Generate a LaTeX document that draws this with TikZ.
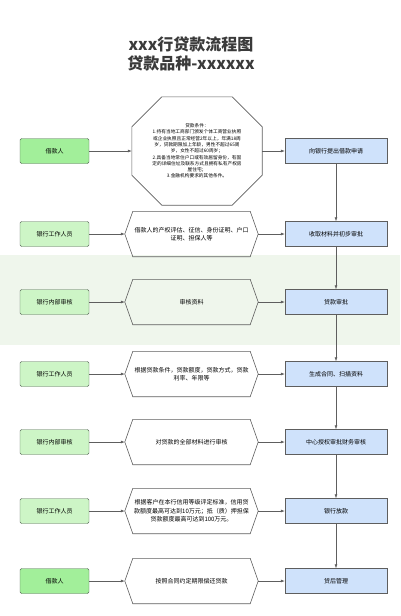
\documentclass[tikz,border=0pt]{standalone}
\usepackage{fontspec}
\setmainfont{Noto Sans CJK SC}
\usetikzlibrary{arrows.meta}

\definecolor{linegray}{HTML}{5E5E5E}
\definecolor{boxline}{HTML}{556655}
\definecolor{brightgreen}{HTML}{A2EF9A}
\definecolor{leftgreen}{HTML}{CDF5C6}
\definecolor{rightblue}{HTML}{CFE2FB}
\definecolor{bandgreen}{HTML}{EFF6EC}
\definecolor{titlegray}{HTML}{3A3A3A}

\begin{document}
\begin{tikzpicture}[x=1pt,y=-1pt,
  who/.style={draw=boxline, fill=leftgreen, rounded corners=1.5pt, minimum width=69pt, minimum height=25pt, inner sep=1pt, font=\fontsize{6}{7}\selectfont},
  whoB/.style={who, fill=brightgreen},
  todo/.style={draw=linegray, fill=rightblue, minimum width=102pt, minimum height=25pt, inner sep=1pt, font=\fontsize{6}{7}\selectfont},
  hexbox/.style={minimum width=133pt, minimum height=45pt, inner sep=0pt, align=center, font=\fontsize{6}{8.5}\selectfont},
  flow/.style={draw=linegray, line width=0.6pt, -{Latex[length=4pt,width=3pt]}}]

\useasboundingbox (0,0) rectangle (400,616);
\fill[bandgreen] (0,255) rectangle (400,345); % faint band

% Title
\node[text=titlegray, font=\bfseries\fontsize{16}{18}\selectfont] (title) at (191,44) {xxx行贷款流程图};
\node[text=titlegray, font=\bfseries\fontsize{16}{18}\selectfont] (kind) at (191,63) {贷款品种-xxxxxx};

% Left column
\node[whoB] (a1) at (54.5,151) {借款人};
\node[who] (a2) at (54.5,234) {银行工作人员};
\node[who] (a3) at (54.5,302) {银行内部审核};
\node[who] (a4) at (54.5,374) {银行工作人员};
\node[who] (a5) at (54.5,442) {银行内部审核};
\node[who] (a6) at (54.5,511) {银行工作人员};
\node[whoB] (a7) at (54.5,581) {借款人};

% Middle column
\node[minimum width=130pt, minimum height=108pt, inner sep=0pt, align=center, font=\fontsize{4.7}{6.3}\selectfont] (cond) at (197,151)
  {贷款条件：\\
   1.持有当地工商部门颁发个体工商营业执照\\
   或企业执照且正常经营2年以上，年满18周\\
   岁，贷款期限加上年龄，男性不超过65周\\
   岁，女性不超过60周岁；\\
   2.具备当地常住户口或有效居留身份，有固\\
   定的详细住址及联系方式且拥有私有产权房\\
   屋住宅；\\
   3.金融机构要求的其他条件。};
\node[hexbox] (h2) at (191.5,234) {借款人的产权评估、征信、身份证明、户口\\证明、担保人等};
\node[hexbox] (h3) at (191.5,302) {审核资料};
\node[hexbox] (h4) at (191.5,374) {根据贷款条件，贷款额度，贷款方式，贷款\\利率、年限等};
\node[hexbox] (h5) at (191.5,442) {对贷款的全部材料进行审核};
\node[hexbox] (h6) at (191.5,511) {根据客户在本行信用等级评定标准，信用贷\\款额度最高可达到10万元；抵（质）押担保\\贷款额度最高可达到100万元。};
\node[hexbox] (h7) at (191.5,581) {按照合同约定期限偿还贷款};

% Right column
\node[todo] (b1) at (336,151) {向银行提出借款申请};
\node[todo] (b2) at (336,234) {收取材料并初步审批};
\node[todo] (b3) at (336,302) {贷款审批};
\node[todo] (b4) at (336,374) {生成合同、扫描资料};
\node[todo] (b5) at (336,442) {中心授权审批财务审核};
\node[todo] (b6) at (336,511) {银行放款};
\node[todo] (b7) at (336,581) {贷后管理};

% Outlines
\draw[linegray, line width=0.6pt] ([yshift=-30pt]cond.north west) -- ([xshift=30pt]cond.north west) -- ([xshift=-30pt]cond.north east) -- ([yshift=-30pt]cond.north east) -- ([yshift=30pt]cond.south east) -- ([xshift=-30pt]cond.south east) -- ([xshift=30pt]cond.south west) -- ([yshift=30pt]cond.south west) -- cycle;
\foreach \h in {h2,h3,h4,h5,h6,h7}
  \draw[linegray, line width=0.6pt] (\h.west) -- ([xshift=8pt]\h.north west) -- ([xshift=-8pt]\h.north east) -- (\h.east) -- ([xshift=-8pt]\h.south east) -- ([xshift=8pt]\h.south west) -- cycle;

% Arrows
\draw[flow] (a1.east) -- (cond.west);
\draw[flow] (cond.east) -- (b1.west);
\foreach \i in {2,...,7}
{
  \draw[flow] (a\i.east) -- (h\i.west);
  \draw[flow] (h\i.east) -- (b\i.west);
}
\foreach \i/\j in {1/2,2/3,3/4,4/5,5/6,6/7}
  \draw[flow] (b\i) -- (b\j);
\end{tikzpicture}
\end{document}
